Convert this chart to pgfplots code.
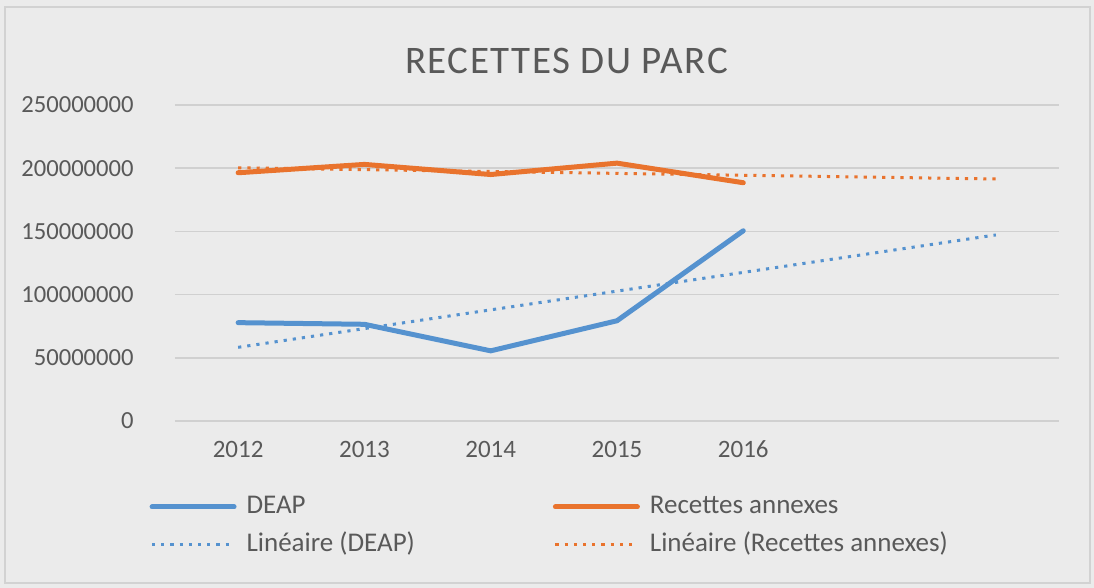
\documentclass[border=0pt]{standalone}
\usepackage{fontspec}
\setmainfont{Carlito}
\usepackage{pgfplots}
\pgfplotsset{compat=1.18}

\definecolor{deap}{HTML}{5592CF}
\definecolor{rec}{HTML}{E9732D}
\definecolor{txt}{HTML}{595959}
\definecolor{gridc}{HTML}{D0D0D0}
\definecolor{bgc}{HTML}{EBEBEB}
\definecolor{framec}{HTML}{D2D2D2}

\begin{document}
\begin{tikzpicture}
% background of the chart area (1px = 0.5pt, axis origin at px (175,421))
\fill[bgc] (-87.5pt,-83.5pt) rectangle (459.5pt,210.5pt);
\draw[framec, line width=1pt] (-85pt,-81pt) rectangle (457.5pt,207pt);
\useasboundingbox (-87.5pt,-83.5pt) rectangle (459.5pt,210.5pt);
\begin{axis}[
    scale only axis,
    width=442pt, height=158pt,
    xmin=0.5, xmax=7.5,
    ymin=0, ymax=250000000,
    scaled y ticks=false,
    xtick={1,2,3,4,5},
    xticklabels={2012,2013,2014,2015,2016},
    ytick={0,50000000,100000000,150000000,200000000,250000000},
    yticklabels={0,50000000,100000000,150000000,200000000,250000000},
    axis line style={draw=none},
    major tick length=0pt,
    ymajorgrids=true,
    grid style={gridc, line width=0.75pt},
    xticklabel style={anchor=base, yshift=-18.5pt, text=txt, font=\fontsize{12.5}{14}\selectfont},
    yticklabel style={anchor=east, inner sep=0pt, xshift=-20.5pt, text=txt, font=\fontsize{12.3}{14}\selectfont},
    title={RECETTES DU PARC},
    title style={at={(0.443,1.063)}, anchor=base, text=txt,
        font=\fontsize{19.5}{22}\selectfont\addfontfeature{LetterSpace=4}},
    legend columns=2,
    legend style={at={(-0.036,-0.217)}, anchor=north west, draw=none, fill=none,
        font=\fontsize{13.5}{16}\selectfont, text=txt, row sep=6pt,
        nodes={inner ysep=0pt, inner xsep=5pt, text height=10pt, text depth=3pt},
        /tikz/column 2/.style={column sep=64pt}},
    legend cell align=left,
    legend image code/.code={\draw[#1] (0pt,0pt) -- (41pt,0pt);},
]
% DEAP
\addplot[deap, line width=2.5pt, line join=round, line cap=round] coordinates {
    (1,77800000) (2,76500000) (3,55500000) (4,79300000) (5,150500000)
};
\addlegendentry{DEAP}
% Recettes annexes
\addplot[rec, line width=2.5pt, line join=round, line cap=round] coordinates {
    (1,196400000) (2,203000000) (3,195000000) (4,204000000) (5,188500000)
};
\addlegendentry{Recettes annexes}
% linear trends, extended two periods forward
\addplot[deap, line width=1.5pt, dash pattern=on 1.6pt off 3pt] coordinates {
    (1,58280000) (7,147200000)
};
\addlegendentry{Linéaire (DEAP)}
\addplot[rec, line width=1.5pt, dash pattern=on 1.6pt off 3pt] coordinates {
    (1,200340000) (7,191460000)
};
\addlegendentry{Linéaire (Recettes annexes)}
\end{axis}
\end{tikzpicture}
\end{document}
